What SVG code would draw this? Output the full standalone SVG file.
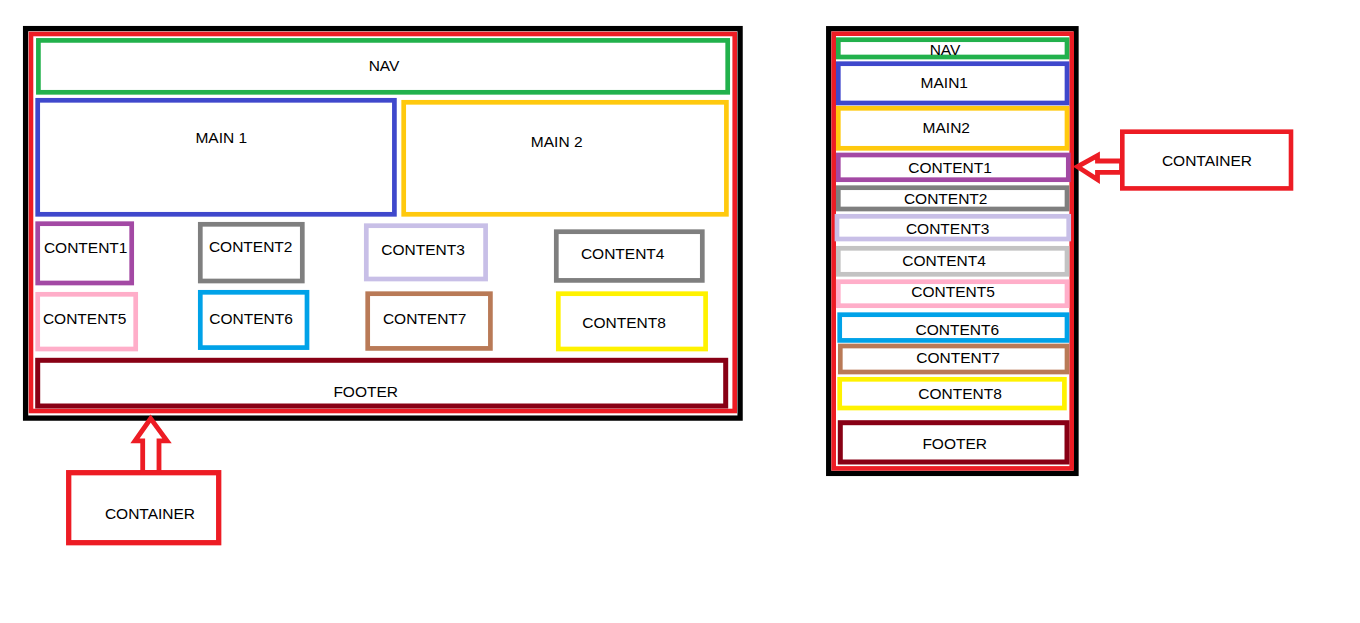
<svg xmlns="http://www.w3.org/2000/svg" width="1360" height="623" viewBox="0 0 1360 623">
<style>
  rect { fill: #ffffff; }
  .blk { stroke: #000000; stroke-width: 5.3; }
  .red { stroke: #ed1c24; stroke-width: 4.6; }
  .grn { stroke: #22b14c; stroke-width: 4.7; }
  .blu { stroke: #3f48cc; stroke-width: 4.7; }
  .ylw { stroke: #ffc90e; stroke-width: 4.7; }
  .pur { stroke: #a349a4; stroke-width: 4.7; }
  .gry { stroke: #7f7f7f; stroke-width: 4.7; }
  .lgr { stroke: #c3c3c3; stroke-width: 4.7; }
  .lav { stroke: #c8bfe7; stroke-width: 4.7; }
  .pnk { stroke: #ffaec9; stroke-width: 4.7; }
  .cyn { stroke: #00a2e8; stroke-width: 4.7; }
  .brn { stroke: #b97a57; stroke-width: 4.7; }
  .yl2 { stroke: #fff200; stroke-width: 4.7; }
  .drd { stroke: #880015; stroke-width: 5; }
  .arrow { fill: #ffffff; stroke: #ed1c24; stroke-width: 4.8; stroke-linejoin: miter; }
  text { font-family: "Liberation Sans", Arial, sans-serif; font-size: 15.5px; fill: #000000; text-anchor: middle; }
</style>
<rect x="0" y="0" width="1360" height="623" style="fill:#ffffff"/>

<!-- Left layout -->
<g id="left-outer">
  <rect class="blk" x="25.6" y="28.6" width="714.5" height="389.5"/>
  <rect class="red" x="31" y="34" width="703.7" height="377"/>
</g>
<g id="left-nav"><rect class="grn" x="38.4" y="40.4" width="689.3" height="51.9"/><text x="384" y="70.7">NAV</text></g>
<g id="left-main1"><rect class="blu" x="37.7" y="100.3" width="356.7" height="114"/><text x="221.3" y="143.3">MAIN 1</text></g>
<g id="left-main2"><rect class="ylw" x="403.7" y="102.3" width="322.7" height="112"/><text x="556.7" y="146.7">MAIN 2</text></g>
<g id="left-content1"><rect class="pur" x="37.7" y="223.7" width="94" height="59.3"/><text x="85.7" y="253.3">CONTENT1</text></g>
<g id="left-content2"><rect class="gry" x="200.3" y="224.3" width="102" height="56.7"/><text x="250.7" y="252">CONTENT2</text></g>
<g id="left-content3"><rect class="lav" x="366.3" y="225.7" width="119.3" height="53.3"/><text x="423" y="255.3">CONTENT3</text></g>
<g id="left-content4"><rect class="gry" x="556.3" y="231.7" width="146" height="48.7"/><text x="622.7" y="258.7">CONTENT4</text></g>
<g id="left-content5"><rect class="pnk" x="37.7" y="294.3" width="98" height="54.7"/><text x="84.7" y="324">CONTENT5</text></g>
<g id="left-content6"><rect class="cyn" x="200.3" y="292.3" width="106.7" height="55.3"/><text x="251" y="324">CONTENT6</text></g>
<g id="left-content7"><rect class="brn" x="367.7" y="293.7" width="122.7" height="54.7"/><text x="424.7" y="324">CONTENT7</text></g>
<g id="left-content8"><rect class="yl2" x="558.3" y="293.7" width="147.3" height="55.3"/><text x="624" y="328">CONTENT8</text></g>
<g id="left-footer"><rect class="drd" x="37.7" y="360.3" width="688" height="45.7"/><text x="365.7" y="397.3">FOOTER</text></g>
<g id="left-container"><rect class="red" x="68.7" y="472.7" width="150" height="70" style="stroke-width:5.3"/><text x="150" y="518.7">CONTAINER</text></g>

<!-- Right layout -->
<g id="right-outer">
  <rect class="blk" x="828.7" y="28.7" width="247.3" height="444.7"/>
  <rect class="red" x="833.7" y="33.7" width="238" height="434.7"/>
</g>
<g id="right-nav"><rect class="grn" x="838.3" y="39.7" width="228.7" height="17.3"/><text x="945" y="54.5">NAV</text></g>
<g id="right-main1"><rect class="blu" x="838.3" y="63.7" width="228.7" height="39.3"/><text x="944.3" y="88">MAIN1</text></g>
<g id="right-main2"><rect class="ylw" x="838.3" y="108.3" width="228.7" height="40"/><text x="946.3" y="132.7">MAIN2</text></g>
<g id="right-content1"><rect class="pur" x="838.3" y="155" width="230" height="24.7"/><text x="950" y="172.7">CONTENT1</text></g>
<g id="right-content2"><rect class="gry" x="838.3" y="187.7" width="228.7" height="21.3"/><text x="945.7" y="204">CONTENT2</text></g>
<g id="right-content3"><rect class="lav" x="837" y="216.3" width="231.7" height="22.7"/><text x="947.7" y="234">CONTENT3</text></g>
<g id="right-content4"><rect class="lgr" x="838.3" y="248.3" width="228.7" height="26"/><text x="944" y="266">CONTENT4</text></g>
<g id="right-content5"><rect class="pnk" x="838.3" y="281.7" width="228.7" height="24"/><text x="953" y="296.7">CONTENT5</text></g>
<g id="right-content6"><rect class="cyn" x="839.7" y="314.7" width="227.3" height="25.7"/><text x="957.3" y="334.7">CONTENT6</text></g>
<g id="right-content7"><rect class="brn" x="840.3" y="346" width="226.7" height="26"/><text x="958" y="362.7">CONTENT7</text></g>
<g id="right-content8"><rect class="yl2" x="839.7" y="379.3" width="224.7" height="28.7"/><text x="960" y="399.3">CONTENT8</text></g>
<g id="right-footer"><rect class="drd" x="840.3" y="422.7" width="226.7" height="39.3"/><text x="954.7" y="448.7">FOOTER</text></g>
<g id="right-container"><rect class="red" x="1122.3" y="131.7" width="168.7" height="56.7"/><text x="1207" y="166">CONTAINER</text></g>

<!-- Connectors (hollow block arrows) -->
<g id="connectors">
  <polygon class="arrow" points="150.7,418.5 135,440.8 142.7,440.8 142.7,472.5 159,472.5 159,440.8 167,440.8"/>
  <polygon class="arrow" points="1077.5,166.7 1097.5,155.6 1097.5,161 1121.5,161 1121.5,172.4 1097.5,172.4 1097.5,179.6"/>
</g>
</svg>
